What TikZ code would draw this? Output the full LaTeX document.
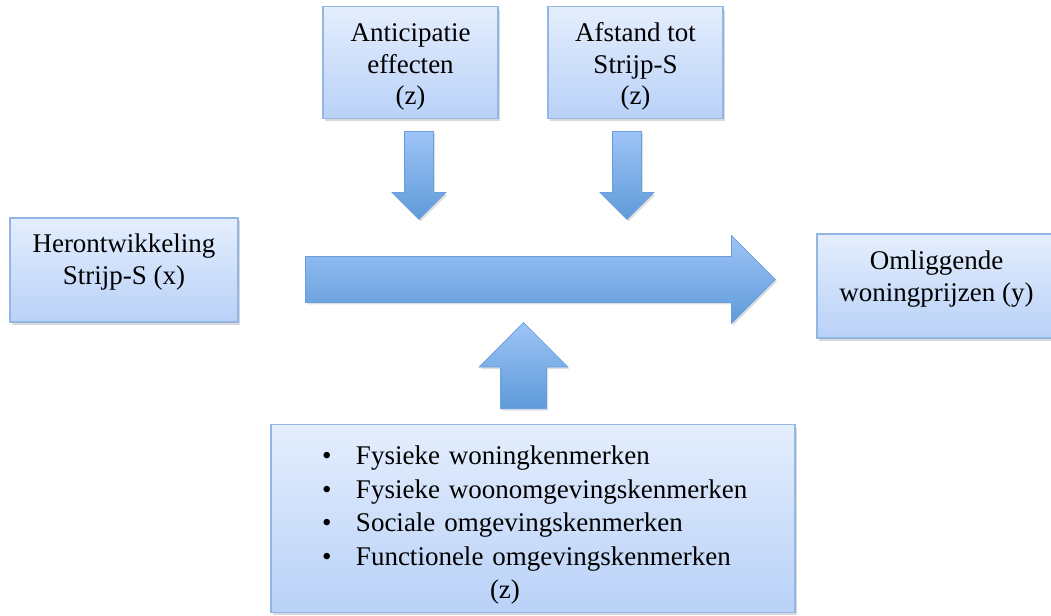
\documentclass[tikz,border=0pt]{standalone}
\usepackage{fontspec}
\setmainfont{Liberation Serif}
\usetikzlibrary{shapes.arrows,shadows}

\definecolor{boxline}{HTML}{94B6E3}
\definecolor{boxtop}{HTML}{E4EEFD}
\definecolor{boxbot}{HTML}{B9D1F8}
\definecolor{pijltop}{HTML}{9EC4F7}
\definecolor{pijlbot}{HTML}{5E9AD9}
\definecolor{pijlline}{HTML}{6A9FDD}

\newcommand{\lowstrut}[1]{\rule[-#1]{0pt}{#1}}
\newcommand{\highstrut}[1]{\rule{0pt}{#1}}
\newcommand{\bul}{\hspace*{21.5pt}\makebox[17pt][l]{\textbullet}}

\begin{document}
\begin{tikzpicture}[x=0.5pt,y=-0.5pt,
   box/.style={draw=boxline, line width=0.8pt, top color=boxtop, bottom color=boxbot,
      align=center, inner sep=4pt, font=\fontsize{13.5}{15.75}\selectfont,
      drop shadow={shadow xshift=1pt, shadow yshift=-1.5pt, opacity=0.3}},
   blockarrow/.style={single arrow, draw=pijlline, line width=0.4pt, anchor=tail,
      top color=pijltop, bottom color=pijlbot,
      drop shadow={shadow xshift=0.8pt, shadow yshift=-1pt, opacity=0.25}}]
   \useasboundingbox (0,0) rectangle (1051,616);
   % boxes
   \node[box, minimum width=114pt, minimum height=52pt] (herontw) at (124,270)
      {Herontwikkeling\\ Strijp-S (x)\lowstrut{11pt}};
   \node[box, minimum width=87.5pt, minimum height=52.5pt] (anticip) at (410.5,62.5)
      {\highstrut{13.5pt}Anticipatie\\ effecten\\ (z)};
   \node[box, minimum width=87.5pt, minimum height=52.5pt] (afstand) at (635.5,62.5)
      {\highstrut{13.5pt}Afstand tot\\ Strijp-S\\ (z)};
   \node[box, minimum width=119.5pt, minimum height=52pt] (woningpr) at (936.5,286)
      {Omliggende\\ woningprijzen (y)\lowstrut{10pt}};
   \node[box, minimum width=262pt, minimum height=92.5pt, text width=254pt, align=left,
      font=\fontsize{13.5}{16.75}\selectfont] (kenmerken) at (533,518.5)
      {\highstrut{16pt}\bul Fysieke woningkenmerken\\
       \bul Fysieke woonomgevingskenmerken\\
       \bul Sociale omgevingskenmerken\\
       \bul Functionele omgevingskenmerken\\
       \hspace*{105.5pt}(z)};
   % block arrows (placed by their tail)
   \node[blockarrow, minimum height=235pt, minimum width=43.5pt, inner sep=11.25pt,
      single arrow head extend=10.5pt] (pijlx) at (305,279.5) {};
   \node[blockarrow, minimum height=44pt, minimum width=26.5pt, inner sep=7pt,
      single arrow head extend=6.25pt, shape border rotate=270] (pijlanti) at (419,131) {};
   \node[blockarrow, minimum height=44pt, minimum width=26.5pt, inner sep=7pt,
      single arrow head extend=6.25pt, shape border rotate=270] (pijlafst) at (627,131) {};
   \node[blockarrow, minimum height=43pt, minimum width=44pt, inner sep=11.25pt,
      single arrow head extend=10.75pt, shape border rotate=90] (pijlkenm) at (523.5,409) {};
\end{tikzpicture}
\end{document}
